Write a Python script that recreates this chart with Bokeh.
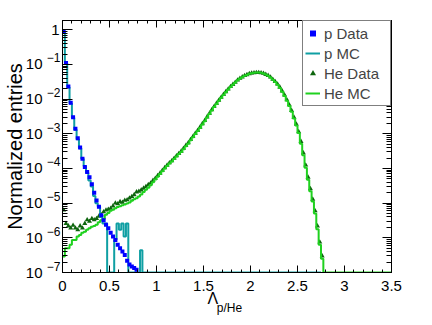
import numpy as np
from bokeh.plotting import figure
from bokeh.models import (FixedTicker, LinearAxis, LogAxis, Legend,
                          LegendItem, Range1d)
from bokeh.embed import file_html
from bokeh.resources import INLINE

# ---------------- data (normalized entries per bin) ----------------
BIN_WIDTH = 0.025
Y_FLOOR = 1e-7
Y_TOP = 1.85

p_data = [0.86, 0.11, 0.023, 0.0078, 0.0030, 0.0014, 7.4e-4, 4.0e-4, 1.9e-4, 1.1e-4,
          7.9e-5, 5.6e-5, 3.5e-5, 2.0e-5, 1.2e-5, 7.9e-6, 4.5e-6, 3.2e-6, 2.4e-6, 1.9e-6,
          1.4e-6, 1.1e-6, 8.7e-7, 6.3e-7, 5.0e-7, 4.0e-7, 3.2e-7, 2.2e-7, 1.7e-7, 1.5e-7,
          1.35e-7, 1.2e-7]

p_mc = [0.86, 0.11, 0.022, 0.0075, 0.0029, 0.0013, 7.0e-4, 3.8e-4, 1.9e-4, 1.15e-4,
        7.5e-5, 4.5e-5, 3.0e-5, 1.6e-5, 1.0e-5, 8.0e-6, 4.0e-6, 2.6e-6, 2.6e-6, 0.0,
        0.0, 0.0, 8.8e-7, 2.6e-6, 1.7e-6, 2.6e-6, 1.1e-6, 2.6e-6, 0.0, 0.0,
        0.0, 0.0, 0.0, 4.4e-7, 0.0]
P_MC_END = 2.75

he_data = [6.3e-6, 2.6e-6, 2.2e-6, 1.9e-6, 2.3e-6, 1.9e-6, 1.7e-6, 2.2e-6, 1.9e-6, 2.6e-6,
           3.3e-6, 3.0e-6, 3.6e-6, 3.3e-6, 3.6e-6, 4.2e-6, 4.6e-6, 5.6e-6, 6.3e-6, 6.6e-6,
           7.1e-6, 8.3e-6, 1.0e-5, 9.5e-6, 1.1e-5, 1.05e-5, 1.2e-5, 1.25e-5, 1.4e-5, 1.55e-5,
           1.75e-5, 2.1e-5, 2.2e-5, 2.4e-5, 2.7e-5, 3.0e-5, 3.4e-5, 3.8e-5, 4.5e-5, 5.2e-5,
           6.2e-5, 7.3e-5, 8.8e-5, 1.05e-4, 1.24e-4, 1.45e-4, 1.66e-4, 1.95e-4, 2.3e-4, 2.7e-4,
           3.15e-4, 3.8e-4, 4.6e-4, 5.5e-4, 6.8e-4, 8.3e-4, 1.02e-3, 1.25e-3, 1.55e-3, 1.95e-3,
           2.4e-3, 3.05e-3, 3.85e-3, 4.9e-3, 6.1e-3, 7.5e-3, 9.2e-3, 1.13e-2, 1.36e-2, 1.63e-2,
           1.95e-2, 2.3e-2, 2.65e-2, 3.05e-2, 3.55e-2, 3.95e-2, 4.35e-2, 4.75e-2, 5.05e-2, 5.4e-2,
           5.6e-2, 5.75e-2, 5.85e-2, 5.85e-2, 5.75e-2, 5.55e-2, 5.15e-2, 4.8e-2, 4.3e-2, 3.7e-2,
           3.2e-2, 2.7e-2, 2.2e-2, 1.7e-2, 1.3e-2, 9.5e-3, 6.8e-3, 4.7e-3, 3.0e-3, 1.9e-3,
           1.15e-3, 6.0e-4, 2.8e-4, 1.25e-4, 5.6e-5, 2.6e-5, 1.3e-5, 6.0e-6, 2.2e-6, 7.5e-7,
           3.0e-7]

he_mc = [2.9e-7, 5.0e-7, 5.0e-7, 6.3e-7, 8.7e-7, 8.7e-7, 1.1e-6, 1.2e-6, 1.4e-6, 1.5e-6,
         1.7e-6, 1.9e-6, 2.1e-6, 2.2e-6, 2.4e-6, 2.8e-6, 3.2e-6, 3.5e-6, 4.6e-6, 5.2e-6,
         6.0e-6, 6.5e-6, 7.1e-6, 7.8e-6, 8.1e-6, 8.7e-6, 9.1e-6, 9.8e-6, 1.05e-5, 1.17e-5,
         1.29e-5, 1.38e-5, 1.55e-5, 1.78e-5, 2.1e-5, 2.45e-5, 2.8e-5, 3.3e-5, 4.0e-5, 4.8e-5,
         5.8e-5, 6.9e-5, 8.3e-5, 1.0e-4, 1.17e-4, 1.38e-4, 1.58e-4, 1.86e-4, 2.2e-4, 2.6e-4,
         3.0e-4, 3.6e-4, 4.4e-4, 5.2e-4, 6.5e-4, 7.9e-4, 9.8e-4, 1.2e-3, 1.48e-3, 1.86e-3,
         2.3e-3, 2.95e-3, 3.7e-3, 4.7e-3, 5.9e-3, 7.2e-3, 8.9e-3, 1.1e-2, 1.32e-2, 1.58e-2,
         1.9e-2, 2.24e-2, 2.6e-2, 3.0e-2, 3.5e-2, 3.9e-2, 4.3e-2, 4.7e-2, 5.0e-2, 5.4e-2,
         5.6e-2, 5.75e-2, 5.9e-2, 5.9e-2, 5.75e-2, 5.5e-2, 5.1e-2, 4.7e-2, 4.2e-2, 3.6e-2,
         3.1e-2, 2.6e-2, 2.1e-2, 1.62e-2, 1.23e-2, 8.9e-3, 6.3e-3, 4.3e-3, 2.75e-3, 1.74e-3,
         1.05e-3, 5.2e-4, 2.4e-4, 1.05e-4, 4.7e-5, 2.2e-5, 1.12e-5, 5.0e-6, 1.78e-6, 6.3e-7,
         2.5e-7]
HE_MC_END = 3.5

x_ticks = [0, 0.5, 1, 1.5, 2, 2.5, 3, 3.5]
x_tick_labels = ["0", "0.5", "1", "1.5", "2", "2.5", "3", "3.5"]
y_ticks = [1e-7, 1e-6, 1e-5, 1e-4, 1e-3, 1e-2, 1e-1, 1.0]
y_tick_base = ["10", "10", "10", "10", "10", "10", "10", "1"]
y_tick_exp = ["\u22127", "\u22126", "\u22125", "\u22124", "\u22123", "\u22122", "\u22121", ""]

legend_labels = ["p Data", "p MC", "He Data", "He MC"]
x_title = "\u039b"
x_title_sub = "p/He"
y_title = "Normalized entries"

C_PDATA = "#0000ff"
C_PMC = "#0f9fa3"
C_HEDATA = "#0d650d"
C_HEMC = "#1fd11f"
FONT = "Liberation Sans"

FRAME_W, FRAME_H = 329, 252
X_TITLE_AT = 1.60      # where the title glyph sits along the x axis
X_SUB_AT = 1.777
SUP_RAISE_PX = 6.5     # exponent raised above the tick line

# ---------------- helpers ----------------
def centers(vals):
    return (np.arange(len(vals)) + 0.5) * BIN_WIDTH

def step_xy(vals, x_end):
    n = int(round(x_end / BIN_WIDTH))
    v = np.zeros(n)
    v[:len(vals)] = vals
    v = np.maximum(v, Y_FLOOR)
    edges = np.arange(n + 1) * BIN_WIDTH
    return edges, np.append(v, v[-1])

def nonzero(vals):
    v = np.asarray(vals, dtype=float)
    x = centers(v)
    m = v > 0
    return x[m], v[m]

def hide_lines(ax):
    ax.axis_line_color = None
    ax.major_tick_line_color = None
    ax.minor_tick_line_color = None
    ax.major_tick_in = 0
    ax.major_tick_out = 0
    ax.minor_tick_in = 0
    ax.minor_tick_out = 0
    ax.major_label_text_font = FONT
    ax.major_label_text_color = "black"

def style_axis(ax, major_len, minor_len):
    ax.major_tick_in = major_len
    ax.major_tick_out = 0
    ax.minor_tick_in = minor_len
    ax.minor_tick_out = 0
    ax.axis_line_color = "black"
    ax.major_tick_line_color = "black"
    ax.minor_tick_line_color = "black"
    ax.major_label_text_font = FONT
    ax.major_label_text_color = "black"

# ---------------- figure ----------------
p = figure(frame_width=FRAME_W, frame_height=FRAME_H,
           x_range=Range1d(0, 3.5), y_range=Range1d(Y_FLOOR, Y_TOP),
           y_axis_type="log", output_backend="svg", toolbar_location=None,
           min_border_left=60, min_border_right=43,
           min_border_top=20, min_border_bottom=0)
p.xgrid.visible = False
p.ygrid.visible = False
p.outline_line_color = "black"
p.outline_line_width = 1
p.background_fill_color = "white"
p.border_fill_color = "white"

x_minor = [round(0.1 * i, 2) for i in range(36)]
y_minor = [k * t for t in y_ticks[:-1] for k in range(2, 10)] + [2.0, 3.0, 4.0, 5.0, 6.0, 7.0, 8.0, 9.0]
xt = FixedTicker(ticks=x_ticks, minor_ticks=x_minor)
yt = FixedTicker(ticks=y_ticks, minor_ticks=y_minor)

# bottom: tick labels, then the title glyph and its subscript
xa = p.xaxis[0]
xa.ticker = xt
xa.major_label_overrides = {t: l for t, l in zip(x_ticks, x_tick_labels)}
style_axis(xa, 7, 3)
xa.major_label_text_font_size = "15px"
xa.major_label_standoff = 8

x_t = LinearAxis(ticker=FixedTicker(ticks=[X_TITLE_AT], minor_ticks=[]),
                 major_label_overrides={X_TITLE_AT: x_title})
hide_lines(x_t)
x_t.major_label_text_font_size = "16px"
x_t.major_label_standoff = -4
p.add_layout(x_t, "below")

x_s = LinearAxis(ticker=FixedTicker(ticks=[X_SUB_AT], minor_ticks=[]),
                 major_label_overrides={X_SUB_AT: x_title_sub})
hide_lines(x_s)
x_s.major_label_text_font_size = "12px"
x_s.major_label_standoff = -9
p.add_layout(x_s, "below")

# left: ticks + "1", then raised exponents, then "10" + axis title
decade_px = FRAME_H / np.log10(Y_TOP / Y_FLOOR)
sup_shift = 10 ** (SUP_RAISE_PX / decade_px)

ya = p.yaxis[0]
ya.ticker = yt
ya.major_label_overrides = {t: (b if not e else "") for t, b, e in zip(y_ticks, y_tick_base, y_tick_exp)}
style_axis(ya, 10, 5)
ya.major_label_text_font_size = "15px"
ya.major_label_standoff = 3

exp_pos = [t * sup_shift for t, e in zip(y_ticks, y_tick_exp) if e]
exp_txt = [e for e in y_tick_exp if e]
y_e = LogAxis(ticker=FixedTicker(ticks=exp_pos, minor_ticks=[]),
              major_label_overrides={t: e for t, e in zip(exp_pos, exp_txt)})
hide_lines(y_e)
y_e.major_label_text_font_size = "12px"
y_e.major_label_standoff = -12
p.add_layout(y_e, "left")

base_pos = [t for t, e in zip(y_ticks, y_tick_exp) if e]
base_txt = [b for b, e in zip(y_tick_base, y_tick_exp) if e]
y_b = LogAxis(ticker=FixedTicker(ticks=base_pos, minor_ticks=[]),
              major_label_overrides={t: b for t, b in zip(base_pos, base_txt)})
hide_lines(y_b)
y_b.major_label_text_font_size = "15px"
y_b.major_label_standoff = 1
y_b.axis_label = y_title
y_b.axis_label_text_font = FONT
y_b.axis_label_text_font_size = "20px"
y_b.axis_label_text_font_style = "normal"
y_b.axis_label_text_color = "black"
y_b.axis_label_standoff = -3
p.add_layout(y_b, "left")

# frame ticks on top and right
top = LinearAxis(ticker=xt, major_label_standoff=0,
                 major_label_overrides={t: "" for t in x_ticks})
style_axis(top, 7, 3)
p.add_layout(top, "above")
right = LogAxis(ticker=yt, major_label_standoff=0,
                major_label_overrides={t: "" for t in y_ticks})
style_axis(right, 9, 5)
p.add_layout(right, "right")

# ---------------- glyphs ----------------
hx, hy = nonzero(he_data)
r_hed = p.scatter(hx, hy, marker="triangle", size=5, fill_color=C_HEDATA, line_color=None)

ex, ey = step_xy(he_mc, HE_MC_END)
r_hem = p.step(ex, ey, mode="after", line_color=C_HEMC, line_width=2)

ex, ey = step_xy(p_mc, P_MC_END)
r_pmc = p.step(ex, ey, mode="after", line_color=C_PMC, line_width=2)

px_, py_ = nonzero(p_data)
r_pd = p.scatter(px_, py_, marker="square", size=4, fill_color=C_PDATA, line_color=None)

legend = Legend(items=[LegendItem(label=legend_labels[0], renderers=[r_pd]),
                       LegendItem(label=legend_labels[1], renderers=[r_pmc]),
                       LegendItem(label=legend_labels[2], renderers=[r_hed]),
                       LegendItem(label=legend_labels[3], renderers=[r_hem])],
                location="top_right", margin=0, padding=2, spacing=0,
                label_text_font=FONT, label_text_font_size="15px",
                label_height=20, glyph_height=20, glyph_width=15, label_standoff=4,
                label_width=64,
                border_line_color="black", border_line_width=1,
                background_fill_color="white", background_fill_alpha=1.0)
p.add_layout(legend)

open("out.html", "w").write(file_html(p, INLINE))
